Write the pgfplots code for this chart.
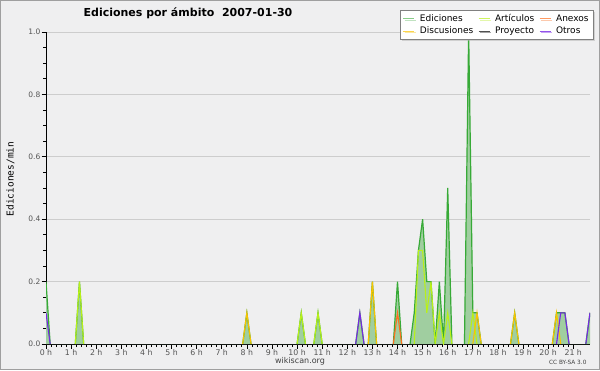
\documentclass[border=0pt]{standalone}
\usepackage{fontspec}
\setmainfont{DejaVu Sans}
\newfontfamily\monofont{DejaVu Sans Mono}
\usepackage{pgfplots}
\pgfplotsset{compat=1.18}
\usetikzlibrary{shadows}

\definecolor{bg}{RGB}{239,239,240}
\definecolor{edc}{RGB}{55,170,55}
\definecolor{edfill}{RGB}{160,206,160}
\definecolor{artc}{RGB}{185,240,25}
\definecolor{anxc}{RGB}{255,110,30}
\definecolor{disc}{RGB}{250,195,0}
\definecolor{proc}{RGB}{80,80,80}
\definecolor{otrc}{RGB}{120,40,230}
\definecolor{gridc}{RGB}{205,205,205}
\definecolor{tickc}{RGB}{85,85,85}

\begin{document}
\begin{tikzpicture}[x=1pt,y=1pt]
\fill[bg] (0,0) rectangle (600,370);
\draw[gray!75, line width=1pt] (0.5,0.5) rectangle (599.5,369.5);
\begin{axis}[
  at={(46pt,26pt)}, anchor=south west,
  scale only axis, width=544pt, height=312pt,
  xmin=0, xmax=130, ymin=0, ymax=1,
  axis x line*=bottom, axis y line*=left,
  axis line style={black, line width=0.9pt},
  tick align=outside,
  xtick={0,6,...,126},
  xticklabels={0 h,1 h,2 h,3 h,4 h,5 h,6 h,7 h,8 h,9 h,10 h,11 h,12 h,13 h,14 h,15 h,16 h,17 h,18 h,19 h,20 h,21 h},
  minor x tick num=4,
  ytick={0,0.2,0.4,0.6,0.8,1},
  minor y tick num=3,
  major tick length=4.5pt, minor tick length=3pt,
  tick style={black, line width=0.7pt},
  ymajorgrids, grid style={gridc, line width=0.8pt},
  /pgf/number format/assume math mode=true,
  yticklabel style={/pgf/number format/.cd, fixed, fixed zerofill, precision=1, /tikz/.cd, font=\fontsize{7.5}{8}\selectfont, text=tickc, inner sep=1pt},
  xticklabel style={font=\fontsize{7.8}{8}\selectfont, text=tickc, inner sep=1pt},
  unbounded coords=jump,
  legend columns=3,
  legend image code/.code={\draw[#1, line width=0.8pt] (0pt,0pt) -- (11pt,0pt);},
  legend style={at={(1.007,1.0705)}, anchor=north east, draw=gray, fill=white,
    font=\fontsize{9}{9.5}\selectfont, inner xsep=3pt, inner ysep=2pt, column sep=3pt, row sep=0pt,
    drop shadow={shadow xshift=1.5pt, shadow yshift=-1.5pt, fill=gray!60},
    cells={anchor=west}},
]
% Ediciones fill
\addplot[draw=none, fill=edfill, forget plot] coordinates {
(0,0.2)(1,0)(7,0)(8,0.2)(9,0)(47,0)(48,0.1)(49,0)(60,0)(61,0.1)(62,0)(64,0)(65,0.1)(66,0)
(74,0)(75,0.1)(76,0)(77,0)(78,0.2)(79,0)(83,0)(84,0.2)(85,0)
(87,0)(88,0.1)(89,0.3)(90,0.4)(91,0.2)(92,0.2)(93,0)(94,0.2)(95,0)(96,0.5)(97,0)
(100,0)(101,1.0)(102,0.1)(103,0.1)(104,0)(111,0)(112,0.1)(113,0)
(121,0)(122,0.1)(123,0.1)(124,0.1)(125,0)(129,0)(130,0.1)} \closedcycle;
% Ediciones line
\addplot[edc, line width=1.2pt, forget plot] coordinates {
(0,0.2)(1,0)(4,nan)(7,0)(8,0.2)(9,0)(20,nan)(47,0)(48,0.1)(49,0)(55,nan)(60,0)(61,0.1)(62,0)(63,nan)(64,0)(65,0.1)(66,0)(70,nan)
(74,0)(75,0.1)(76,0)(76.5,nan)(77,0)(78,0.2)(79,0)(80,nan)(83,0)(84,0.2)(85,0)(86,nan)
(87,0)(88,0.1)(89,0.3)(90,0.4)(91,0.2)(92,0.2)(93,0)(94,0.2)(95,0)(96,0.5)(97,0)(98,nan)
(100,0)(101,1.0)(102,0.1)(103,0.1)(104,0)(108,nan)(111,0)(112,0.1)(113,0)(117,nan)
(121,0)(122,0.1)(123,0.1)(124,0.1)(125,0)(127,nan)(129,0)(130,0.1)};
% Articulos
\addplot[artc, line width=1.1pt, forget plot] coordinates {
(7,0)(8,0.2)(9,0)(20,nan)(60,0)(61,0.1)(62,0)(63,nan)(64,0)(65,0.1)(66,0)(70,nan)
(88,0)(89,0.3)(90,0.3)(91,0.1)(92,0.2)(93,0)(94,0.1)(95,0)(96,0.1)(97,0)(98,nan)
(101,0)(102,0.1)(103,0)};
% Discusiones
\addplot[disc, line width=1.1pt, forget plot] coordinates {
(47,0)(48,0.1)(49,0)(60,nan)(77,0)(78,0.2)(79,0)(80,nan)
(102,0)(103,0.1)(104,0)(108,nan)(111,0)(112,0.1)(113,0)(117,nan)(121,0)(122,0.1)(123,0)};
% Anexos
\addplot[anxc, line width=1.1pt, forget plot] coordinates {(83,0)(84,0.1)(85,0)};
% Otros
\addplot[otrc, line width=1.1pt, forget plot] coordinates {
(0,0.1)(1,0)(30,nan)(74,0)(75,0.1)(76,0)(100,nan)(122,0)(123,0.1)(124,0.1)(125,0)(127,nan)(129,0)(130,0.1)};

\addlegendimage{edc!60}\addlegendentry{Ediciones}
\addlegendimage{artc!70}\addlegendentry{Artículos}
\addlegendimage{anxc!70}\addlegendentry{Anexos}
\addlegendimage{disc!70}\addlegendentry{Discusiones}
\addlegendimage{proc}\addlegendentry{Proyecto}
\addlegendimage{otrc!80}\addlegendentry{Otros}
\end{axis}
\node[font=\bfseries\fontsize{11}{12}\selectfont] at (188,357) {Ediciones por ámbito\ \ 2007-01-30};
\node[font=\monofont\fontsize{9.5}{10}\selectfont, rotate=90] at (10.5,191) {Ediciones/min};
\node[font=\fontsize{8}{9}\selectfont, text=black!75] at (300,8.5) {wikiscan.org};
\node[font=\fontsize{5.8}{7}\selectfont, text=black!75, anchor=east] at (590,8) {CC BY-SA 3.0};
\end{tikzpicture}
\end{document}
